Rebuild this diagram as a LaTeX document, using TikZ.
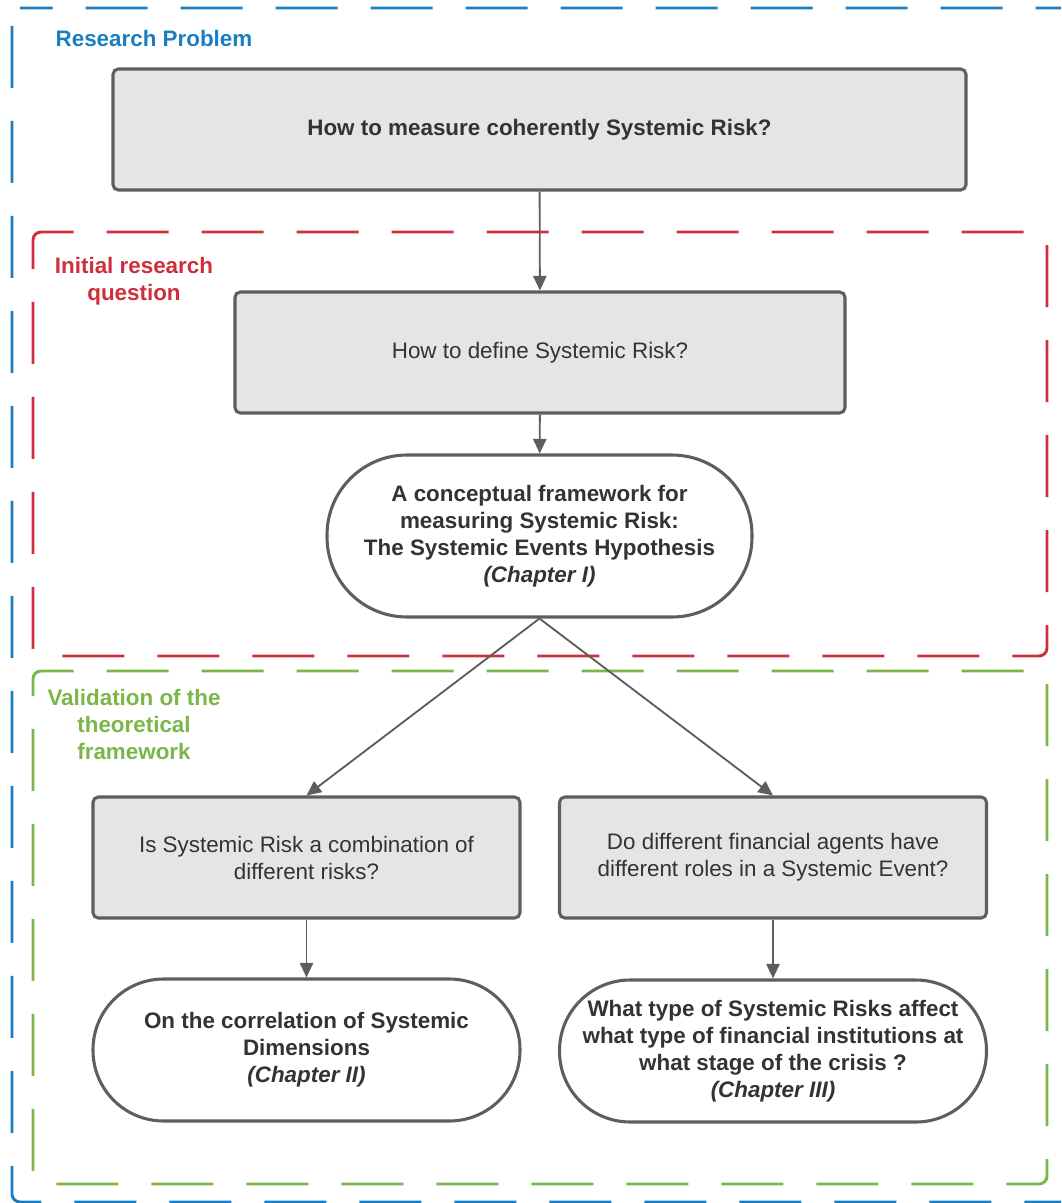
\documentclass[tikz,border=0pt]{standalone}
\usepackage{fontspec}
\setmainfont{Liberation Sans}
\usetikzlibrary{arrows.meta}

\definecolor{probblue}{HTML}{1B7EC2}
\definecolor{questred}{HTML}{CF2F3D}
\definecolor{validgreen}{HTML}{7AB648}
\definecolor{boxline}{HTML}{5E5E5E}
\definecolor{boxfill}{HTML}{E5E5E5}
\definecolor{boxtext}{HTML}{333333}

\newcommand\diagfont{\fontsize{16.8}{20.25}\selectfont}

\tikzset{
    question/.style={draw=boxline, fill=boxfill, line width=2.3pt, rounded corners=4pt,
        text=boxtext, align=center, inner sep=0pt, font=\diagfont},
    chapter/.style={draw=boxline, fill=white, line width=2.3pt,
        text=boxtext, align=center, inner sep=0pt, font=\diagfont\bfseries},
    frame/.style={line width=2.2pt, rounded corners=6pt,
        dash pattern=on 46.5pt off 24.75pt, dash phase=22pt},
    link/.style={draw=boxline, line width=1.4pt,
        -{Triangle[length=11pt, width=10pt]}},
    tag/.style={align=center, font=\diagfont\bfseries}
}

\begin{document}
\begin{tikzpicture}[x=0.75pt, y=-0.75pt]
\useasboundingbox (0,0) rectangle (1061,1203);
\clip (0,0) rectangle (1061,1203);

% frames
\draw[frame, probblue]
    (12,8) -- (1085,8) -- (1085,1202) -- (12,1202) -- cycle;
\draw[frame, questred]
    (33,232) -- (1047,232) -- (1047,656) -- (33,656) -- cycle;
\draw[frame, validgreen]
    (33,671) -- (1047,671) -- (1047,1184) -- (33,1184) -- cycle;

\node[tag, probblue] (problem) at (154,38) {Research Problem};
\node[tag, questred] (initial) at (134,281) {Initial research\\question};
\node[tag, validgreen] (valid) at (134,724) {Validation of the\\theoretical\\framework};

% questions
\node[question, font=\diagfont\bfseries, minimum width=639.75pt, minimum height=90.75pt]
    (measure) at (539.5,129.5) {How to measure coherently Systemic Risk?};
\node[question, minimum width=457.5pt, minimum height=90.75pt]
    (define) at (540,352.5) {How to define Systemic Risk?};
\node[chapter, minimum width=318.75pt, minimum height=121.5pt, rounded corners=60pt]
    (hypo) at (539.5,536) {A conceptual framework for\\measuring Systemic Risk:\\The Systemic Events Hypothesis\\\textit{(Chapter I)}};
\node[question, minimum width=320.25pt, minimum height=90.75pt]
    (combine) at (306.5,857.5) {Is Systemic Risk a combination of\\different risks?};
\node[question, minimum width=320.25pt, minimum height=90.75pt]
    (roles) at (773,857.5) {Do different financial agents have\\different roles in a Systemic Event?};
\node[chapter, minimum width=320.25pt, minimum height=106.5pt, rounded corners=53pt]
    (corr) at (306.5,1050) {On the correlation of Systemic\\Dimensions\\\textit{(Chapter II)}};
\node[chapter, minimum width=320.25pt, minimum height=106.5pt, rounded corners=53pt]
    (stage) at (773,1051) {What type of Systemic Risks affect\\what type of financial institutions at\\what stage of the crisis ?\\\textit{(Chapter III)}};

% links
\draw[link] (measure) -- (define);
\draw[link] (define) -- (hypo);
\draw[link] (hypo.south) -- (combine.north);
\draw[link] (hypo.south) -- (roles.north);
\draw[link] (combine) -- (corr);
\draw[link] (roles) -- (stage);
\end{tikzpicture}
\end{document}
